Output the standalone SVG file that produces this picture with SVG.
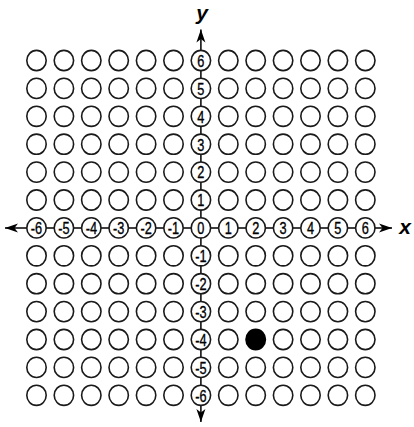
<svg xmlns="http://www.w3.org/2000/svg" width="414" height="427" viewBox="0 0 414 427">
<style>
.c{fill:#fff;stroke:#1a1a1a;stroke-width:1.6}
.f{fill:#000;stroke:#000;stroke-width:1.6}
.ax{stroke:#000;stroke-width:1.5;fill:none}
.n{font-family:"Liberation Sans",Arial,sans-serif;font-size:17px;text-anchor:middle;fill:#000;stroke:#000;stroke-width:0.35}
.lab{font-family:"Liberation Sans",Arial,sans-serif;font-size:21px;font-weight:bold;font-style:italic;text-anchor:middle;fill:#000}
</style>
<defs>
<marker id="ah" markerUnits="userSpaceOnUse" markerWidth="14" markerHeight="10" viewBox="0 -5 14 10" refX="13" refY="0" orient="auto-start-reverse">
<path d="M13,0 L0,-4.5 L3.5,0 L0,4.5 Z" fill="#000"/>
</marker>
</defs>
<rect width="414" height="427" fill="#fff"/>
<g id="connectors">
<line class="ax" x1="5" y1="227.9" x2="392" y2="227.9" marker-start="url(#ah)" marker-end="url(#ah)"/>
<line class="ax" x1="200.9" y1="29.5" x2="200.9" y2="422" marker-start="url(#ah)" marker-end="url(#ah)"/>
</g>
<text class="lab" x="202" y="19.5">y</text>
<text class="lab" x="405" y="233.5">x</text>
<g id="row0">
<g id="n0_0"><ellipse class="c" cx="36.5" cy="60.5" rx="9.7" ry="10.1"/></g>
<g id="n1_0"><ellipse class="c" cx="63.9" cy="60.5" rx="9.7" ry="10.1"/></g>
<g id="n2_0"><ellipse class="c" cx="91.3" cy="60.5" rx="9.7" ry="10.1"/></g>
<g id="n3_0"><ellipse class="c" cx="118.7" cy="60.5" rx="9.7" ry="10.1"/></g>
<g id="n4_0"><ellipse class="c" cx="146.1" cy="60.5" rx="9.7" ry="10.1"/></g>
<g id="n5_0"><ellipse class="c" cx="173.5" cy="60.5" rx="9.7" ry="10.1"/></g>
<g id="y6"><ellipse class="c" cx="200.9" cy="60.5" rx="9.7" ry="10.1"/><text class="n" transform="translate(200.9,66.8) scale(0.75,1)">6</text></g>
<g id="n7_0"><ellipse class="c" cx="228.3" cy="60.5" rx="9.7" ry="10.1"/></g>
<g id="n8_0"><ellipse class="c" cx="255.7" cy="60.5" rx="9.7" ry="10.1"/></g>
<g id="n9_0"><ellipse class="c" cx="283.1" cy="60.5" rx="9.7" ry="10.1"/></g>
<g id="n10_0"><ellipse class="c" cx="310.5" cy="60.5" rx="9.7" ry="10.1"/></g>
<g id="n11_0"><ellipse class="c" cx="337.9" cy="60.5" rx="9.7" ry="10.1"/></g>
<g id="n12_0"><ellipse class="c" cx="365.3" cy="60.5" rx="9.7" ry="10.1"/></g>
</g>
<g id="row1">
<g id="n0_1"><ellipse class="c" cx="36.5" cy="88.4" rx="9.7" ry="10.1"/></g>
<g id="n1_1"><ellipse class="c" cx="63.9" cy="88.4" rx="9.7" ry="10.1"/></g>
<g id="n2_1"><ellipse class="c" cx="91.3" cy="88.4" rx="9.7" ry="10.1"/></g>
<g id="n3_1"><ellipse class="c" cx="118.7" cy="88.4" rx="9.7" ry="10.1"/></g>
<g id="n4_1"><ellipse class="c" cx="146.1" cy="88.4" rx="9.7" ry="10.1"/></g>
<g id="n5_1"><ellipse class="c" cx="173.5" cy="88.4" rx="9.7" ry="10.1"/></g>
<g id="y5"><ellipse class="c" cx="200.9" cy="88.4" rx="9.7" ry="10.1"/><text class="n" transform="translate(200.9,94.7) scale(0.75,1)">5</text></g>
<g id="n7_1"><ellipse class="c" cx="228.3" cy="88.4" rx="9.7" ry="10.1"/></g>
<g id="n8_1"><ellipse class="c" cx="255.7" cy="88.4" rx="9.7" ry="10.1"/></g>
<g id="n9_1"><ellipse class="c" cx="283.1" cy="88.4" rx="9.7" ry="10.1"/></g>
<g id="n10_1"><ellipse class="c" cx="310.5" cy="88.4" rx="9.7" ry="10.1"/></g>
<g id="n11_1"><ellipse class="c" cx="337.9" cy="88.4" rx="9.7" ry="10.1"/></g>
<g id="n12_1"><ellipse class="c" cx="365.3" cy="88.4" rx="9.7" ry="10.1"/></g>
</g>
<g id="row2">
<g id="n0_2"><ellipse class="c" cx="36.5" cy="116.3" rx="9.7" ry="10.1"/></g>
<g id="n1_2"><ellipse class="c" cx="63.9" cy="116.3" rx="9.7" ry="10.1"/></g>
<g id="n2_2"><ellipse class="c" cx="91.3" cy="116.3" rx="9.7" ry="10.1"/></g>
<g id="n3_2"><ellipse class="c" cx="118.7" cy="116.3" rx="9.7" ry="10.1"/></g>
<g id="n4_2"><ellipse class="c" cx="146.1" cy="116.3" rx="9.7" ry="10.1"/></g>
<g id="n5_2"><ellipse class="c" cx="173.5" cy="116.3" rx="9.7" ry="10.1"/></g>
<g id="y4"><ellipse class="c" cx="200.9" cy="116.3" rx="9.7" ry="10.1"/><text class="n" transform="translate(200.9,122.6) scale(0.75,1)">4</text></g>
<g id="n7_2"><ellipse class="c" cx="228.3" cy="116.3" rx="9.7" ry="10.1"/></g>
<g id="n8_2"><ellipse class="c" cx="255.7" cy="116.3" rx="9.7" ry="10.1"/></g>
<g id="n9_2"><ellipse class="c" cx="283.1" cy="116.3" rx="9.7" ry="10.1"/></g>
<g id="n10_2"><ellipse class="c" cx="310.5" cy="116.3" rx="9.7" ry="10.1"/></g>
<g id="n11_2"><ellipse class="c" cx="337.9" cy="116.3" rx="9.7" ry="10.1"/></g>
<g id="n12_2"><ellipse class="c" cx="365.3" cy="116.3" rx="9.7" ry="10.1"/></g>
</g>
<g id="row3">
<g id="n0_3"><ellipse class="c" cx="36.5" cy="144.2" rx="9.7" ry="10.1"/></g>
<g id="n1_3"><ellipse class="c" cx="63.9" cy="144.2" rx="9.7" ry="10.1"/></g>
<g id="n2_3"><ellipse class="c" cx="91.3" cy="144.2" rx="9.7" ry="10.1"/></g>
<g id="n3_3"><ellipse class="c" cx="118.7" cy="144.2" rx="9.7" ry="10.1"/></g>
<g id="n4_3"><ellipse class="c" cx="146.1" cy="144.2" rx="9.7" ry="10.1"/></g>
<g id="n5_3"><ellipse class="c" cx="173.5" cy="144.2" rx="9.7" ry="10.1"/></g>
<g id="y3"><ellipse class="c" cx="200.9" cy="144.2" rx="9.7" ry="10.1"/><text class="n" transform="translate(200.9,150.5) scale(0.75,1)">3</text></g>
<g id="n7_3"><ellipse class="c" cx="228.3" cy="144.2" rx="9.7" ry="10.1"/></g>
<g id="n8_3"><ellipse class="c" cx="255.7" cy="144.2" rx="9.7" ry="10.1"/></g>
<g id="n9_3"><ellipse class="c" cx="283.1" cy="144.2" rx="9.7" ry="10.1"/></g>
<g id="n10_3"><ellipse class="c" cx="310.5" cy="144.2" rx="9.7" ry="10.1"/></g>
<g id="n11_3"><ellipse class="c" cx="337.9" cy="144.2" rx="9.7" ry="10.1"/></g>
<g id="n12_3"><ellipse class="c" cx="365.3" cy="144.2" rx="9.7" ry="10.1"/></g>
</g>
<g id="row4">
<g id="n0_4"><ellipse class="c" cx="36.5" cy="172.1" rx="9.7" ry="10.1"/></g>
<g id="n1_4"><ellipse class="c" cx="63.9" cy="172.1" rx="9.7" ry="10.1"/></g>
<g id="n2_4"><ellipse class="c" cx="91.3" cy="172.1" rx="9.7" ry="10.1"/></g>
<g id="n3_4"><ellipse class="c" cx="118.7" cy="172.1" rx="9.7" ry="10.1"/></g>
<g id="n4_4"><ellipse class="c" cx="146.1" cy="172.1" rx="9.7" ry="10.1"/></g>
<g id="n5_4"><ellipse class="c" cx="173.5" cy="172.1" rx="9.7" ry="10.1"/></g>
<g id="y2"><ellipse class="c" cx="200.9" cy="172.1" rx="9.7" ry="10.1"/><text class="n" transform="translate(200.9,178.4) scale(0.75,1)">2</text></g>
<g id="n7_4"><ellipse class="c" cx="228.3" cy="172.1" rx="9.7" ry="10.1"/></g>
<g id="n8_4"><ellipse class="c" cx="255.7" cy="172.1" rx="9.7" ry="10.1"/></g>
<g id="n9_4"><ellipse class="c" cx="283.1" cy="172.1" rx="9.7" ry="10.1"/></g>
<g id="n10_4"><ellipse class="c" cx="310.5" cy="172.1" rx="9.7" ry="10.1"/></g>
<g id="n11_4"><ellipse class="c" cx="337.9" cy="172.1" rx="9.7" ry="10.1"/></g>
<g id="n12_4"><ellipse class="c" cx="365.3" cy="172.1" rx="9.7" ry="10.1"/></g>
</g>
<g id="row5">
<g id="n0_5"><ellipse class="c" cx="36.5" cy="200" rx="9.7" ry="10.1"/></g>
<g id="n1_5"><ellipse class="c" cx="63.9" cy="200" rx="9.7" ry="10.1"/></g>
<g id="n2_5"><ellipse class="c" cx="91.3" cy="200" rx="9.7" ry="10.1"/></g>
<g id="n3_5"><ellipse class="c" cx="118.7" cy="200" rx="9.7" ry="10.1"/></g>
<g id="n4_5"><ellipse class="c" cx="146.1" cy="200" rx="9.7" ry="10.1"/></g>
<g id="n5_5"><ellipse class="c" cx="173.5" cy="200" rx="9.7" ry="10.1"/></g>
<g id="y1"><ellipse class="c" cx="200.9" cy="200" rx="9.7" ry="10.1"/><text class="n" transform="translate(200.9,206.3) scale(0.75,1)">1</text></g>
<g id="n7_5"><ellipse class="c" cx="228.3" cy="200" rx="9.7" ry="10.1"/></g>
<g id="n8_5"><ellipse class="c" cx="255.7" cy="200" rx="9.7" ry="10.1"/></g>
<g id="n9_5"><ellipse class="c" cx="283.1" cy="200" rx="9.7" ry="10.1"/></g>
<g id="n10_5"><ellipse class="c" cx="310.5" cy="200" rx="9.7" ry="10.1"/></g>
<g id="n11_5"><ellipse class="c" cx="337.9" cy="200" rx="9.7" ry="10.1"/></g>
<g id="n12_5"><ellipse class="c" cx="365.3" cy="200" rx="9.7" ry="10.1"/></g>
</g>
<g id="row6">
<g id="xm6"><ellipse class="c" cx="36.5" cy="227.9" rx="9.7" ry="10.1"/><text class="n" transform="translate(36.5,234.2) scale(0.75,1)">-6</text></g>
<g id="xm5"><ellipse class="c" cx="63.9" cy="227.9" rx="9.7" ry="10.1"/><text class="n" transform="translate(63.9,234.2) scale(0.75,1)">-5</text></g>
<g id="xm4"><ellipse class="c" cx="91.3" cy="227.9" rx="9.7" ry="10.1"/><text class="n" transform="translate(91.3,234.2) scale(0.75,1)">-4</text></g>
<g id="xm3"><ellipse class="c" cx="118.7" cy="227.9" rx="9.7" ry="10.1"/><text class="n" transform="translate(118.7,234.2) scale(0.75,1)">-3</text></g>
<g id="xm2"><ellipse class="c" cx="146.1" cy="227.9" rx="9.7" ry="10.1"/><text class="n" transform="translate(146.1,234.2) scale(0.75,1)">-2</text></g>
<g id="xm1"><ellipse class="c" cx="173.5" cy="227.9" rx="9.7" ry="10.1"/><text class="n" transform="translate(173.5,234.2) scale(0.75,1)">-1</text></g>
<g id="origin"><ellipse class="c" cx="200.9" cy="227.9" rx="9.7" ry="10.1"/><text class="n" transform="translate(200.9,234.2) scale(0.75,1)">0</text></g>
<g id="x1"><ellipse class="c" cx="228.3" cy="227.9" rx="9.7" ry="10.1"/><text class="n" transform="translate(228.3,234.2) scale(0.75,1)">1</text></g>
<g id="x2"><ellipse class="c" cx="255.7" cy="227.9" rx="9.7" ry="10.1"/><text class="n" transform="translate(255.7,234.2) scale(0.75,1)">2</text></g>
<g id="x3"><ellipse class="c" cx="283.1" cy="227.9" rx="9.7" ry="10.1"/><text class="n" transform="translate(283.1,234.2) scale(0.75,1)">3</text></g>
<g id="x4"><ellipse class="c" cx="310.5" cy="227.9" rx="9.7" ry="10.1"/><text class="n" transform="translate(310.5,234.2) scale(0.75,1)">4</text></g>
<g id="x5"><ellipse class="c" cx="337.9" cy="227.9" rx="9.7" ry="10.1"/><text class="n" transform="translate(337.9,234.2) scale(0.75,1)">5</text></g>
<g id="x6"><ellipse class="c" cx="365.3" cy="227.9" rx="9.7" ry="10.1"/><text class="n" transform="translate(365.3,234.2) scale(0.75,1)">6</text></g>
</g>
<g id="row7">
<g id="n0_7"><ellipse class="c" cx="36.5" cy="255.8" rx="9.7" ry="10.1"/></g>
<g id="n1_7"><ellipse class="c" cx="63.9" cy="255.8" rx="9.7" ry="10.1"/></g>
<g id="n2_7"><ellipse class="c" cx="91.3" cy="255.8" rx="9.7" ry="10.1"/></g>
<g id="n3_7"><ellipse class="c" cx="118.7" cy="255.8" rx="9.7" ry="10.1"/></g>
<g id="n4_7"><ellipse class="c" cx="146.1" cy="255.8" rx="9.7" ry="10.1"/></g>
<g id="n5_7"><ellipse class="c" cx="173.5" cy="255.8" rx="9.7" ry="10.1"/></g>
<g id="ym1"><ellipse class="c" cx="200.9" cy="255.8" rx="9.7" ry="10.1"/><text class="n" transform="translate(200.9,262.1) scale(0.75,1)">-1</text></g>
<g id="n7_7"><ellipse class="c" cx="228.3" cy="255.8" rx="9.7" ry="10.1"/></g>
<g id="n8_7"><ellipse class="c" cx="255.7" cy="255.8" rx="9.7" ry="10.1"/></g>
<g id="n9_7"><ellipse class="c" cx="283.1" cy="255.8" rx="9.7" ry="10.1"/></g>
<g id="n10_7"><ellipse class="c" cx="310.5" cy="255.8" rx="9.7" ry="10.1"/></g>
<g id="n11_7"><ellipse class="c" cx="337.9" cy="255.8" rx="9.7" ry="10.1"/></g>
<g id="n12_7"><ellipse class="c" cx="365.3" cy="255.8" rx="9.7" ry="10.1"/></g>
</g>
<g id="row8">
<g id="n0_8"><ellipse class="c" cx="36.5" cy="283.7" rx="9.7" ry="10.1"/></g>
<g id="n1_8"><ellipse class="c" cx="63.9" cy="283.7" rx="9.7" ry="10.1"/></g>
<g id="n2_8"><ellipse class="c" cx="91.3" cy="283.7" rx="9.7" ry="10.1"/></g>
<g id="n3_8"><ellipse class="c" cx="118.7" cy="283.7" rx="9.7" ry="10.1"/></g>
<g id="n4_8"><ellipse class="c" cx="146.1" cy="283.7" rx="9.7" ry="10.1"/></g>
<g id="n5_8"><ellipse class="c" cx="173.5" cy="283.7" rx="9.7" ry="10.1"/></g>
<g id="ym2"><ellipse class="c" cx="200.9" cy="283.7" rx="9.7" ry="10.1"/><text class="n" transform="translate(200.9,290) scale(0.75,1)">-2</text></g>
<g id="n7_8"><ellipse class="c" cx="228.3" cy="283.7" rx="9.7" ry="10.1"/></g>
<g id="n8_8"><ellipse class="c" cx="255.7" cy="283.7" rx="9.7" ry="10.1"/></g>
<g id="n9_8"><ellipse class="c" cx="283.1" cy="283.7" rx="9.7" ry="10.1"/></g>
<g id="n10_8"><ellipse class="c" cx="310.5" cy="283.7" rx="9.7" ry="10.1"/></g>
<g id="n11_8"><ellipse class="c" cx="337.9" cy="283.7" rx="9.7" ry="10.1"/></g>
<g id="n12_8"><ellipse class="c" cx="365.3" cy="283.7" rx="9.7" ry="10.1"/></g>
</g>
<g id="row9">
<g id="n0_9"><ellipse class="c" cx="36.5" cy="311.6" rx="9.7" ry="10.1"/></g>
<g id="n1_9"><ellipse class="c" cx="63.9" cy="311.6" rx="9.7" ry="10.1"/></g>
<g id="n2_9"><ellipse class="c" cx="91.3" cy="311.6" rx="9.7" ry="10.1"/></g>
<g id="n3_9"><ellipse class="c" cx="118.7" cy="311.6" rx="9.7" ry="10.1"/></g>
<g id="n4_9"><ellipse class="c" cx="146.1" cy="311.6" rx="9.7" ry="10.1"/></g>
<g id="n5_9"><ellipse class="c" cx="173.5" cy="311.6" rx="9.7" ry="10.1"/></g>
<g id="ym3"><ellipse class="c" cx="200.9" cy="311.6" rx="9.7" ry="10.1"/><text class="n" transform="translate(200.9,317.9) scale(0.75,1)">-3</text></g>
<g id="n7_9"><ellipse class="c" cx="228.3" cy="311.6" rx="9.7" ry="10.1"/></g>
<g id="n8_9"><ellipse class="c" cx="255.7" cy="311.6" rx="9.7" ry="10.1"/></g>
<g id="n9_9"><ellipse class="c" cx="283.1" cy="311.6" rx="9.7" ry="10.1"/></g>
<g id="n10_9"><ellipse class="c" cx="310.5" cy="311.6" rx="9.7" ry="10.1"/></g>
<g id="n11_9"><ellipse class="c" cx="337.9" cy="311.6" rx="9.7" ry="10.1"/></g>
<g id="n12_9"><ellipse class="c" cx="365.3" cy="311.6" rx="9.7" ry="10.1"/></g>
</g>
<g id="row10">
<g id="n0_10"><ellipse class="c" cx="36.5" cy="339.5" rx="9.7" ry="10.1"/></g>
<g id="n1_10"><ellipse class="c" cx="63.9" cy="339.5" rx="9.7" ry="10.1"/></g>
<g id="n2_10"><ellipse class="c" cx="91.3" cy="339.5" rx="9.7" ry="10.1"/></g>
<g id="n3_10"><ellipse class="c" cx="118.7" cy="339.5" rx="9.7" ry="10.1"/></g>
<g id="n4_10"><ellipse class="c" cx="146.1" cy="339.5" rx="9.7" ry="10.1"/></g>
<g id="n5_10"><ellipse class="c" cx="173.5" cy="339.5" rx="9.7" ry="10.1"/></g>
<g id="ym4"><ellipse class="c" cx="200.9" cy="339.5" rx="9.7" ry="10.1"/><text class="n" transform="translate(200.9,345.8) scale(0.75,1)">-4</text></g>
<g id="n7_10"><ellipse class="c" cx="228.3" cy="339.5" rx="9.7" ry="10.1"/></g>
<g id="point"><ellipse class="f" cx="255.7" cy="339.5" rx="9.7" ry="10.1"/></g>
<g id="n9_10"><ellipse class="c" cx="283.1" cy="339.5" rx="9.7" ry="10.1"/></g>
<g id="n10_10"><ellipse class="c" cx="310.5" cy="339.5" rx="9.7" ry="10.1"/></g>
<g id="n11_10"><ellipse class="c" cx="337.9" cy="339.5" rx="9.7" ry="10.1"/></g>
<g id="n12_10"><ellipse class="c" cx="365.3" cy="339.5" rx="9.7" ry="10.1"/></g>
</g>
<g id="row11">
<g id="n0_11"><ellipse class="c" cx="36.5" cy="367.4" rx="9.7" ry="10.1"/></g>
<g id="n1_11"><ellipse class="c" cx="63.9" cy="367.4" rx="9.7" ry="10.1"/></g>
<g id="n2_11"><ellipse class="c" cx="91.3" cy="367.4" rx="9.7" ry="10.1"/></g>
<g id="n3_11"><ellipse class="c" cx="118.7" cy="367.4" rx="9.7" ry="10.1"/></g>
<g id="n4_11"><ellipse class="c" cx="146.1" cy="367.4" rx="9.7" ry="10.1"/></g>
<g id="n5_11"><ellipse class="c" cx="173.5" cy="367.4" rx="9.7" ry="10.1"/></g>
<g id="ym5"><ellipse class="c" cx="200.9" cy="367.4" rx="9.7" ry="10.1"/><text class="n" transform="translate(200.9,373.7) scale(0.75,1)">-5</text></g>
<g id="n7_11"><ellipse class="c" cx="228.3" cy="367.4" rx="9.7" ry="10.1"/></g>
<g id="n8_11"><ellipse class="c" cx="255.7" cy="367.4" rx="9.7" ry="10.1"/></g>
<g id="n9_11"><ellipse class="c" cx="283.1" cy="367.4" rx="9.7" ry="10.1"/></g>
<g id="n10_11"><ellipse class="c" cx="310.5" cy="367.4" rx="9.7" ry="10.1"/></g>
<g id="n11_11"><ellipse class="c" cx="337.9" cy="367.4" rx="9.7" ry="10.1"/></g>
<g id="n12_11"><ellipse class="c" cx="365.3" cy="367.4" rx="9.7" ry="10.1"/></g>
</g>
<g id="row12">
<g id="n0_12"><ellipse class="c" cx="36.5" cy="395.3" rx="9.7" ry="10.1"/></g>
<g id="n1_12"><ellipse class="c" cx="63.9" cy="395.3" rx="9.7" ry="10.1"/></g>
<g id="n2_12"><ellipse class="c" cx="91.3" cy="395.3" rx="9.7" ry="10.1"/></g>
<g id="n3_12"><ellipse class="c" cx="118.7" cy="395.3" rx="9.7" ry="10.1"/></g>
<g id="n4_12"><ellipse class="c" cx="146.1" cy="395.3" rx="9.7" ry="10.1"/></g>
<g id="n5_12"><ellipse class="c" cx="173.5" cy="395.3" rx="9.7" ry="10.1"/></g>
<g id="ym6"><ellipse class="c" cx="200.9" cy="395.3" rx="9.7" ry="10.1"/><text class="n" transform="translate(200.9,401.6) scale(0.75,1)">-6</text></g>
<g id="n7_12"><ellipse class="c" cx="228.3" cy="395.3" rx="9.7" ry="10.1"/></g>
<g id="n8_12"><ellipse class="c" cx="255.7" cy="395.3" rx="9.7" ry="10.1"/></g>
<g id="n9_12"><ellipse class="c" cx="283.1" cy="395.3" rx="9.7" ry="10.1"/></g>
<g id="n10_12"><ellipse class="c" cx="310.5" cy="395.3" rx="9.7" ry="10.1"/></g>
<g id="n11_12"><ellipse class="c" cx="337.9" cy="395.3" rx="9.7" ry="10.1"/></g>
<g id="n12_12"><ellipse class="c" cx="365.3" cy="395.3" rx="9.7" ry="10.1"/></g>
</g>
</svg>
